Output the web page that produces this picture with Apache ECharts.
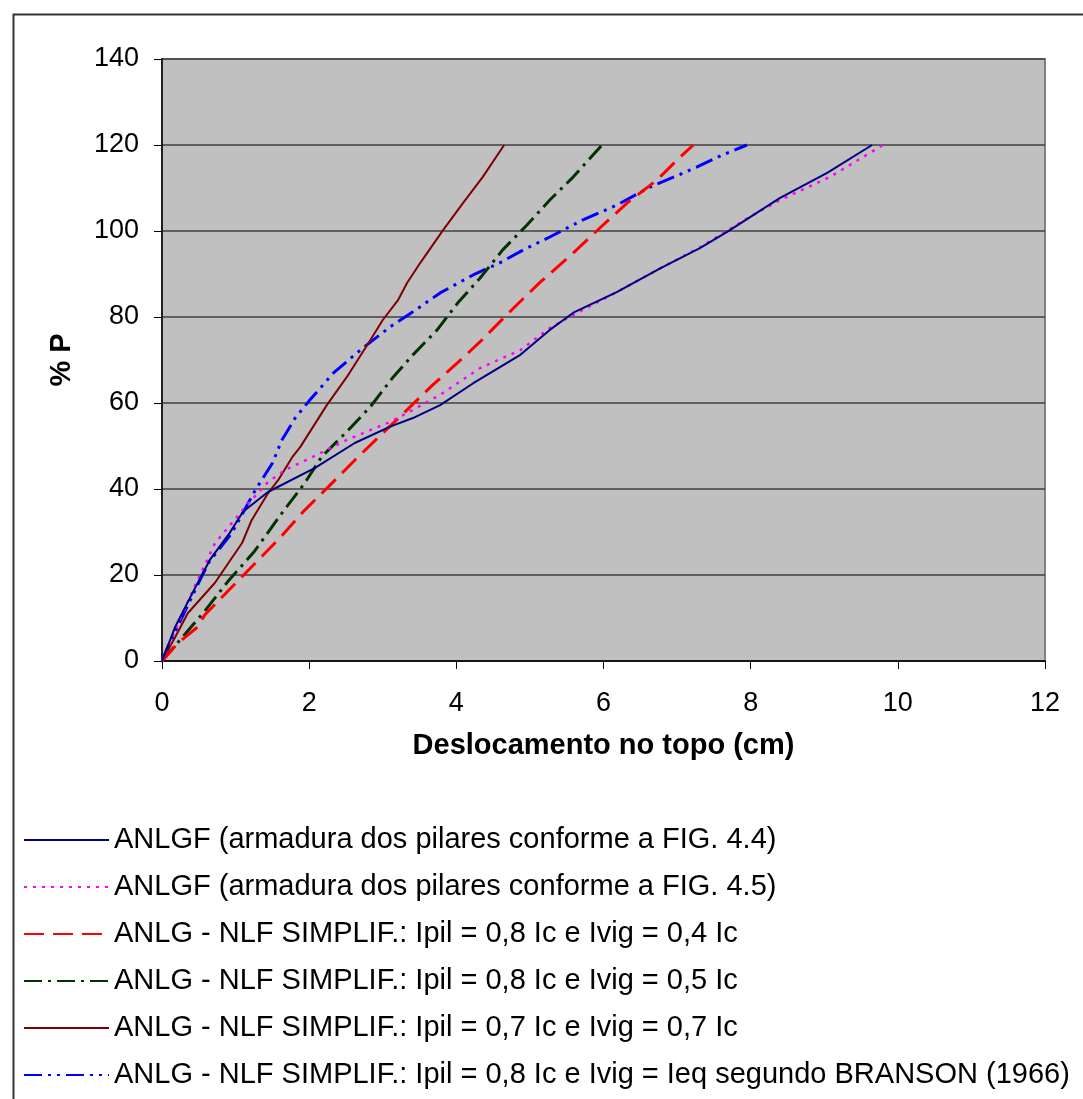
<!DOCTYPE html>
<html>
<head>
<meta charset="utf-8">
<script src="https://cdn.jsdelivr.net/npm/echarts@6/dist/echarts.min.js"></script>
<style>
  html, body { margin: 0; padding: 0; background: #ffffff; }
  #chart { width: 1083px; height: 1099px; }
</style>
</head>
<body>
<div id="chart"></div>
<script>
// Load vs. top displacement curves: [displacement (cm), % P]
const seriesNames = [
  'ANLGF (armadura dos pilares conforme a FIG. 4.4)',
  'ANLGF (armadura dos pilares conforme a FIG. 4.5)',
  'ANLG - NLF SIMPLIF.: Ipil = 0,8 Ic e Ivig = 0,4 Ic',
  'ANLG - NLF SIMPLIF.: Ipil = 0,8 Ic e Ivig = 0,5 Ic',
  'ANLG - NLF SIMPLIF.: Ipil = 0,7 Ic e Ivig = 0,7 Ic',
  'ANLG - NLF SIMPLIF.: Ipil = 0,8 Ic e Ivig = Ieq segundo BRANSON (1966)'
];

const anlgfFig44 = [[0,0],[0.18,8],[0.45,17],[0.65,23.5],[0.92,29.8],[1.1,34.7],[1.44,39.3],[2.08,44.9],[2.62,50.7],[3.1,54.5],[3.41,56.5],[3.78,59.5],[4.23,64.6],[4.87,71.2],[5.27,77],[5.59,81],[6.18,85.8],[6.77,91.3],[7.31,96],[7.68,99.8],[8.4,107.7],[9.04,113.5],[9.65,120]];
const anlgfFig45 = [[0,0],[0.2,8],[0.45,17.5],[0.72,27.4],[1.13,35.8],[1.44,41.6],[1.67,44.4],[2.04,47.4],[2.51,51.4],[3.1,55.6],[3.41,58.4],[3.78,61.9],[4.32,68.1],[4.87,72.3],[5.27,77.4],[5.59,80.5],[6.18,85.8],[6.77,91.3],[7.31,96.2],[7.99,103.3],[8.4,107.2],[9.08,112.6],[9.8,120]];
const nlf0804 = [[0,0],[0.22,4.2],[0.49,8],[0.58,10.7],[0.95,17.2],[1.27,22.8],[1.6,28.6],[1.94,35.1],[2.26,40.5],[2.62,46.7],[3.0,53],[3.33,58.4],[3.68,64.2],[4.09,70.5],[4.32,74.2],[4.82,82.8],[5.14,88.1],[5.59,94.9],[5.95,100.7],[6.32,106.5],[6.73,111.9],[7.0,116.5],[7.22,120]];
const nlf0805 = [[0,0],[0.27,5.4],[0.58,11.6],[0.9,18.6],[1.26,25.6],[1.63,34.4],[1.94,41.4],[2.17,47.5],[2.51,53.3],[2.83,59.1],[3.14,66],[3.41,71.2],[3.74,77],[4.02,83.3],[4.32,89],[4.63,95.6],[4.96,101.4],[5.27,107.2],[5.59,112.6],[5.98,120]];
const nlf0707 = [[0,0],[0.18,5.6],[0.35,11.1],[0.72,18.2],[1.09,27.5],[1.22,32.8],[1.44,39],[1.58,42.1],[1.77,47.4],[1.88,49.8],[2.24,59.5],[2.51,66],[2.83,74.6],[3.0,79.3],[3.21,84],[3.33,87.9],[3.51,92.6],[3.82,100.2],[4.09,106.5],[4.36,112.6],[4.65,120]];
const nlfBranson = [[0,0],[0.08,3.3],[0.45,16.5],[0.63,22.8],[0.95,29.8],[1.27,39.8],[1.5,46],[1.63,51.4],[1.81,56.5],[2.0,60.5],[2.33,67],[2.73,72.8],[3.1,77.7],[3.41,81.2],[3.78,85.6],[4.23,89.8],[4.59,92.6],[4.91,95.6],[5.27,98.6],[5.72,102.6],[6.18,106],[6.63,110.2],[7.18,114.2],[7.62,117.7],[7.95,120]];

const xAxisName = 'Deslocamento no topo (cm)';
const yAxisName = '% P';

const FONT = "'Liberation Sans', Arial, sans-serif";

const styles = [
  { color: '#000080', width: 2,   type: 'solid' },
  { color: '#FF00FF', width: 2.5, type: [3, 6] },
  { color: '#FF0000', width: 3,   type: [20, 9] },
  { color: '#003300', width: 3,   type: [18, 6, 3, 6] },
  { color: '#800000', width: 2,   type: 'solid' },
  { color: '#0000FF', width: 3,   type: [18, 6, 3, 6, 3, 6] }
];
const datasets = [anlgfFig44, anlgfFig45, nlf0804, nlf0805, nlf0707, nlfBranson];

const chart = echarts.init(document.getElementById('chart'), null, { renderer: 'canvas' });

chart.setOption({
  animation: false,
  backgroundColor: '#ffffff',
  graphic: [{
    type: 'rect',
    left: 11, top: 12,
    shape: { width: 1200, height: 1200 },
    style: { fill: 'none', stroke: '#333333', lineWidth: 2 },
    z: -1
  }],
  grid: {
    left: 162, top: 59, right: 38, bottom: 438,
    show: true,
    backgroundColor: '#C0C0C0',
    borderColor: '#808080',
    borderWidth: 2
  },
  xAxis: {
    type: 'value', min: 0, max: 12, interval: 2,
    name: xAxisName, nameLocation: 'middle', nameGap: 70,
    nameTextStyle: { fontFamily: FONT, fontSize: 29, fontWeight: 'bold', color: '#000' },
    axisLine: { show: true, lineStyle: { color: '#000', width: 1.5 } },
    axisTick: { show: true, inside: false, length: 8, lineStyle: { color: '#000' } },
    axisLabel: { margin: 29, fontFamily: FONT, fontSize: 27, color: '#000' },
    splitLine: { show: false }
  },
  yAxis: {
    type: 'value', min: 0, max: 140, interval: 20,
    name: yAxisName, nameLocation: 'middle', nameGap: 86, nameRotate: 90,
    nameTextStyle: { fontFamily: FONT, fontSize: 29, fontWeight: 'bold', color: '#000' },
    axisLine: { show: true, lineStyle: { color: '#000', width: 1.5 } },
    axisTick: { show: true, inside: false, length: 8, lineStyle: { color: '#000' } },
    axisLabel: { margin: 23, fontFamily: FONT, fontSize: 27, color: '#000' },
    splitLine: { show: true, lineStyle: { color: '#404040', width: 1.5 } }
  },
  legend: {
    orient: 'vertical',
    left: 23, top: 825,
    padding: 0,
    itemWidth: 85, itemHeight: 14, itemGap: 17,
    itemStyle: { opacity: 0 },
    textStyle: { fontFamily: FONT, fontSize: 29, color: '#000', lineHeight: 30 },
    data: seriesNames
  },
  series: datasets.map((d, i) => ({
    name: seriesNames[i],
    type: 'line',
    data: d,
    showSymbol: false,
    symbol: 'none',
    smooth: false,
    lineStyle: styles[i],
    itemStyle: { color: styles[i].color },
    z: 10 - i
  }))
});
</script>
</body>
</html>
